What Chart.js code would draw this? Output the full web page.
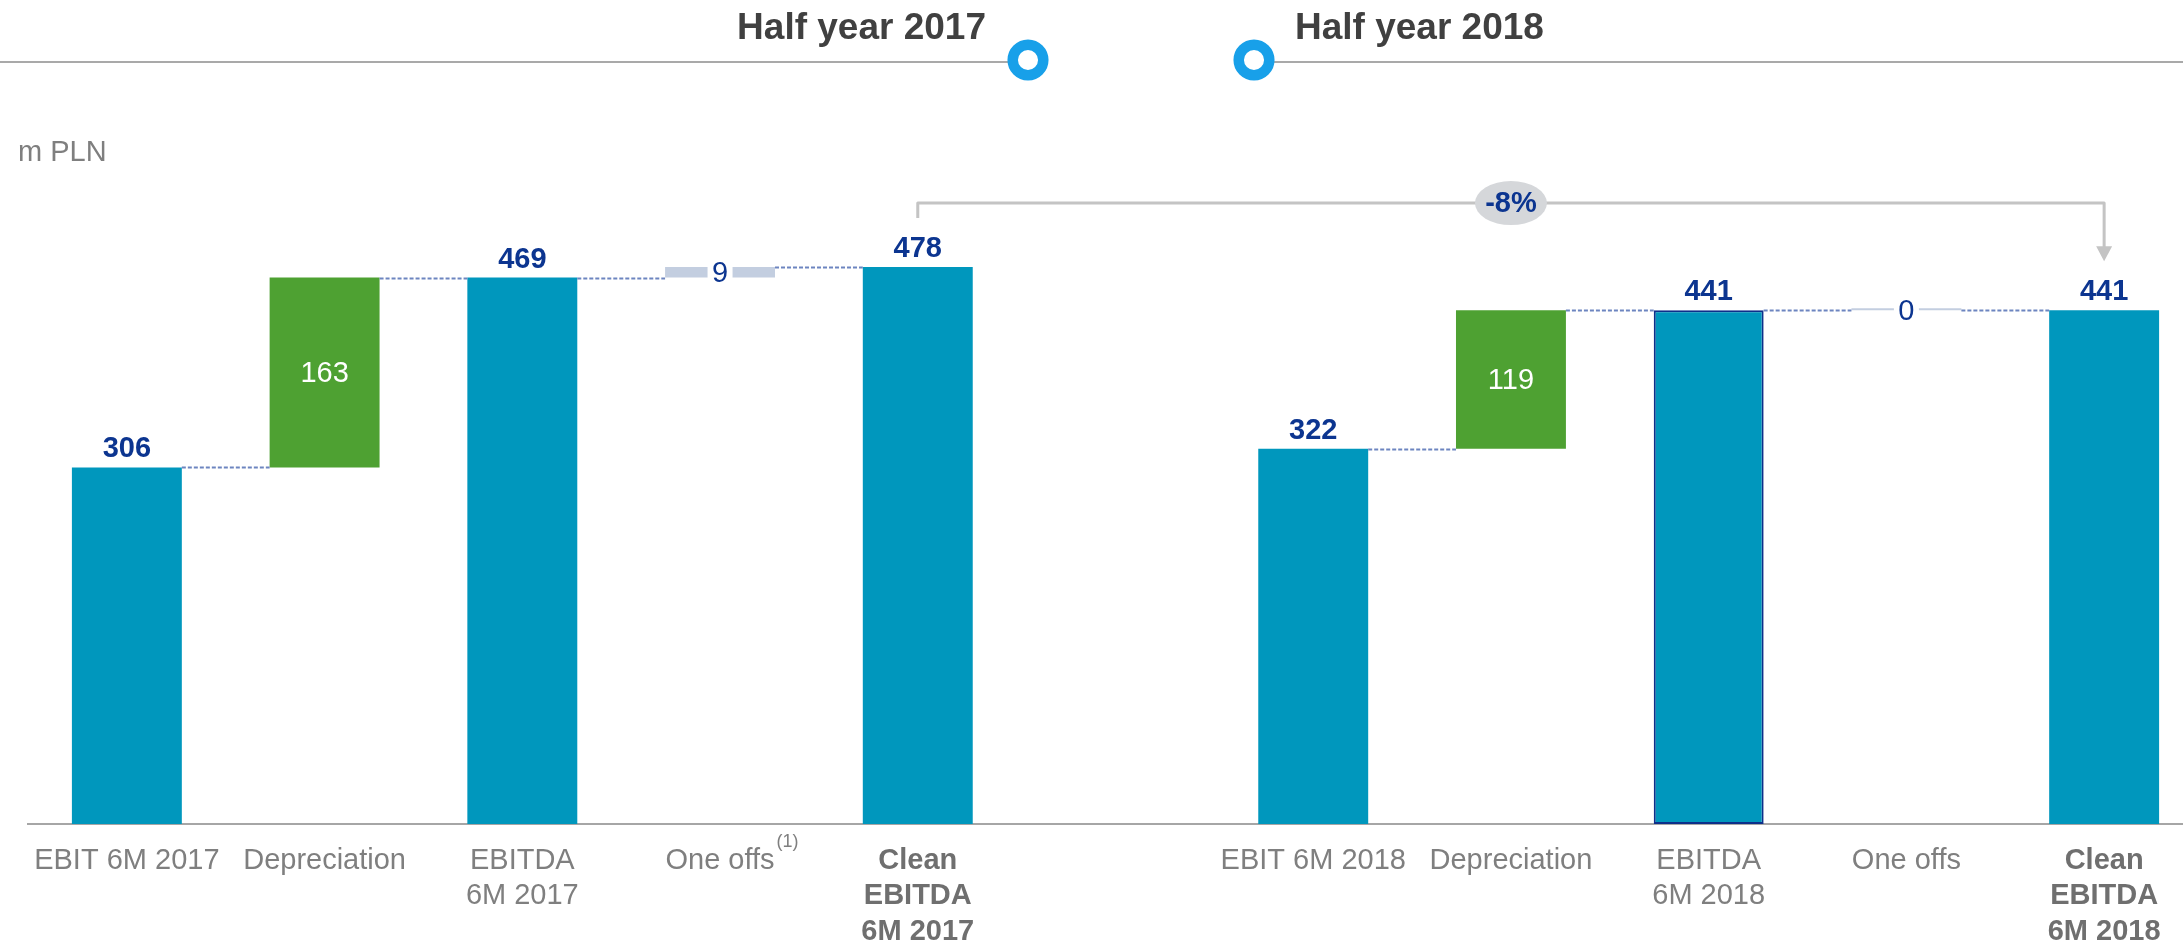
<!DOCTYPE html>
<html><head><meta charset="utf-8">
<script src="https://cdn.jsdelivr.net/npm/chart.js@4"></script>
<style>
html,body{margin:0;padding:0;background:#fff;overflow:hidden;width:2183px;height:944px;}
#wrap{position:absolute;left:0;top:0;width:2240px;height:944px;}
</style></head><body>
<div id="wrap"><canvas id="c" width="2240" height="944"></canvas></div>
<script>
// ---- data ----
const categories = [['EBIT 6M 2017'], ['Depreciation'], ['EBITDA', '6M 2017'], ['One offs'], ['Clean', 'EBITDA', '6M 2017'], '',
                    ['EBIT 6M 2018'], ['Depreciation'], ['EBITDA', '6M 2018'], ['One offs'], ['Clean', 'EBITDA', '6M 2018']];
const years = ['Half year 2017', 'Half year 2018'];
const ebit = [306, 322];
const depreciation = [163, 119];
const ebitda = [469, 441];
const oneOffs = [9, 0];
const cleanEbitda = [478, 441];
const changeLabel = '-8%';
const unitLabel = 'm PLN';
const footnoteMark = '(1)';

// ---- build waterfall table from the arrays ----
const floating = [], kinds = [], valueTexts = [];
for (let k = 0; k < 2; k++) {
  floating.push([0, ebit[k]], [ebit[k], ebitda[k]], [0, ebitda[k]], [ebitda[k], cleanEbitda[k]], [0, cleanEbitda[k]]);
  kinds.push('total', 'dep', 'total', 'oneoff', 'total');
  valueTexts.push(ebit[k], depreciation[k], ebitda[k], oneOffs[k], cleanEbitda[k]);
  if (k === 0) { floating.push(null); kinds.push('gap'); valueTexts.push(null); }
}

const FONT = "'Liberation Sans', Arial, sans-serif";
const FS = 29;
const TEAL = '#0097bd', GREEN = '#4ea132', ONEOFF = '#c3cee0', NAVY = '#0c3590', GREY = '#7f7f7f';
const colorFor = k => k === 'dep' ? GREEN : (k === 'oneoff' ? ONEOFF : TEAL);

const overlay = {
  id: 'overlay',
  afterDraw(chart) {
    const ctx = chart.ctx;
    const xs = chart.scales.x, ys = chart.scales.y;
    const meta = chart.getDatasetMeta(0);
    const bars = meta.data;
    ctx.save();

    // header
    ctx.strokeStyle = '#a9a9a9'; ctx.lineWidth = 2;
    ctx.beginPath(); ctx.moveTo(0, 62); ctx.lineTo(1008, 62); ctx.moveTo(1274, 62); ctx.lineTo(2183, 62); ctx.stroke();
    [1028, 1254].forEach(cx => {
      ctx.beginPath(); ctx.arc(cx, 60, 15.3, 0, Math.PI * 2);
      ctx.fillStyle = '#fff'; ctx.fill();
      ctx.strokeStyle = '#18a0e9'; ctx.lineWidth = 10.5; ctx.stroke();
    });
    ctx.fillStyle = '#404040'; ctx.font = 'bold 37px ' + FONT; ctx.textBaseline = 'alphabetic';
    ctx.textAlign = 'right'; ctx.fillText(years[0], 986, 39);
    ctx.textAlign = 'left'; ctx.fillText(years[1], 1295, 39);

    // unit
    ctx.fillStyle = GREY; ctx.font = FS + 'px ' + FONT; ctx.textAlign = 'left';
    ctx.fillText(unitLabel, 18, 161);

    // connectors
    ctx.strokeStyle = '#6d85c0'; ctx.lineWidth = 2; ctx.setLineDash([4, 2]);
    for (let i = 0; i < floating.length - 1; i++) {
      if (!floating[i] || !floating[i + 1]) continue;
      const y = Math.round(ys.getPixelForValue(floating[i][1])) + 0.5;
      const b1 = bars[i], b2 = bars[i + 1];
      ctx.beginPath(); ctx.moveTo(b1.x + b1.width / 2, y); ctx.lineTo(b2.x - b2.width / 2, y); ctx.stroke();
    }
    ctx.setLineDash([]);

    // value labels
    for (let i = 0; i < floating.length; i++) {
      if (!floating[i]) continue;
      const b = bars[i];
      const yTop = ys.getPixelForValue(floating[i][1]);
      const yBot = ys.getPixelForValue(floating[i][0]);
      ctx.textAlign = 'center';
      if (kinds[i] === 'total') {
        ctx.fillStyle = NAVY; ctx.font = 'bold ' + FS + 'px ' + FONT; ctx.textBaseline = 'alphabetic';
        ctx.fillText(String(valueTexts[i]), b.x, yTop - 10);
      } else if (kinds[i] === 'dep') {
        ctx.fillStyle = '#ffffff'; ctx.font = FS + 'px ' + FONT; ctx.textBaseline = 'middle';
        ctx.fillText(String(valueTexts[i]), b.x, (yTop + yBot) / 2 + 1);
      } else {
        const cy = (yTop + yBot) / 2;
        const h = Math.max(yBot - yTop, 2);
        ctx.fillStyle = '#ffffff'; ctx.fillRect(b.x - 12.5, cy - h / 2 - 2, 25, h + 4);
        ctx.fillStyle = NAVY; ctx.font = FS + 'px ' + FONT; ctx.textBaseline = 'middle';
        ctx.fillText(String(valueTexts[i]), b.x, cy + 1.5);
      }
    }

    // footnote mark
    ctx.font = FS + 'px ' + FONT;
    const w = ctx.measureText('One offs').width;
    ctx.fillStyle = GREY; ctx.font = '18px ' + FONT; ctx.textAlign = 'left'; ctx.textBaseline = 'middle';
    ctx.fillText(footnoteMark, xs.getPixelForValue(3) + w / 2 + 2, 842);

    // bracket with arrow
    const x0 = bars[4].x, x1 = bars[10].x;
    const y0 = ys.getPixelForValue(cleanEbitda[0]) - 49;
    const y1 = ys.getPixelForValue(cleanEbitda[1]) - 49;
    const yb = ys.getPixelForValue(cleanEbitda[0]) - 64;
    ctx.strokeStyle = '#c4c4c4'; ctx.lineWidth = 3; ctx.lineJoin = 'round';
    ctx.beginPath(); ctx.moveTo(x0, y0); ctx.lineTo(x0, yb); ctx.lineTo(x1, yb); ctx.lineTo(x1, y1 - 14); ctx.stroke();
    ctx.fillStyle = '#c4c4c4';
    ctx.beginPath(); ctx.moveTo(x1 - 8, y1 - 15); ctx.lineTo(x1 + 8, y1 - 15); ctx.lineTo(x1, y1); ctx.closePath(); ctx.fill();

    // bubble
    const bx = (x0 + x1) / 2;
    ctx.fillStyle = '#d5d7da';
    ctx.beginPath(); ctx.ellipse(bx, yb, 36, 22, 0, 0, Math.PI * 2); ctx.fill();
    ctx.fillStyle = NAVY; ctx.font = 'bold ' + FS + 'px ' + FONT; ctx.textAlign = 'center'; ctx.textBaseline = 'middle';
    ctx.fillText(changeLabel, bx, yb + 1);

    ctx.restore();
  }
};

new Chart(document.getElementById('c'), {
  type: 'bar',
  data: {
    labels: categories,
    datasets: [{
      data: floating,
      backgroundColor: kinds.map(colorFor),
      borderColor: kinds.map((k, i) => i === 8 ? '#0d2f8a' : 'rgba(0,0,0,0)'),
      borderWidth: kinds.map((k, i) => i === 8 ? 2 : 0),
      borderSkipped: false,
      barPercentage: 0.556,
      categoryPercentage: 1,
      minBarLength: 2
    }]
  },
  options: {
    responsive: false,
    animation: false,
    devicePixelRatio: 1,
    layout: { padding: { top: 90, left: 28, right: 37, bottom: 0 } },
    plugins: { legend: { display: false }, tooltip: { enabled: false }, title: { display: false } },
    scales: {
      y: { display: false, min: 0, max: 630 },
      x: {
        grid: { display: false, drawTicks: false },
        border: { display: true, color: '#a6a6a6', width: 2 },
        afterFit: s => { s.height = 120; },
        ticks: {
          padding: 19,
          autoSkip: false,
          maxRotation: 0,
          minRotation: 0,
          color: c => (c.index === 4 || c.index === 10) ? '#6f6f6f' : GREY,
          font: c => ({ family: FONT, size: FS, weight: (c.index === 4 || c.index === 10) ? 'bold' : 'normal', lineHeight: 1.224 })
        }
      }
    }
  },
  plugins: [overlay]
});
</script>
</body></html>
